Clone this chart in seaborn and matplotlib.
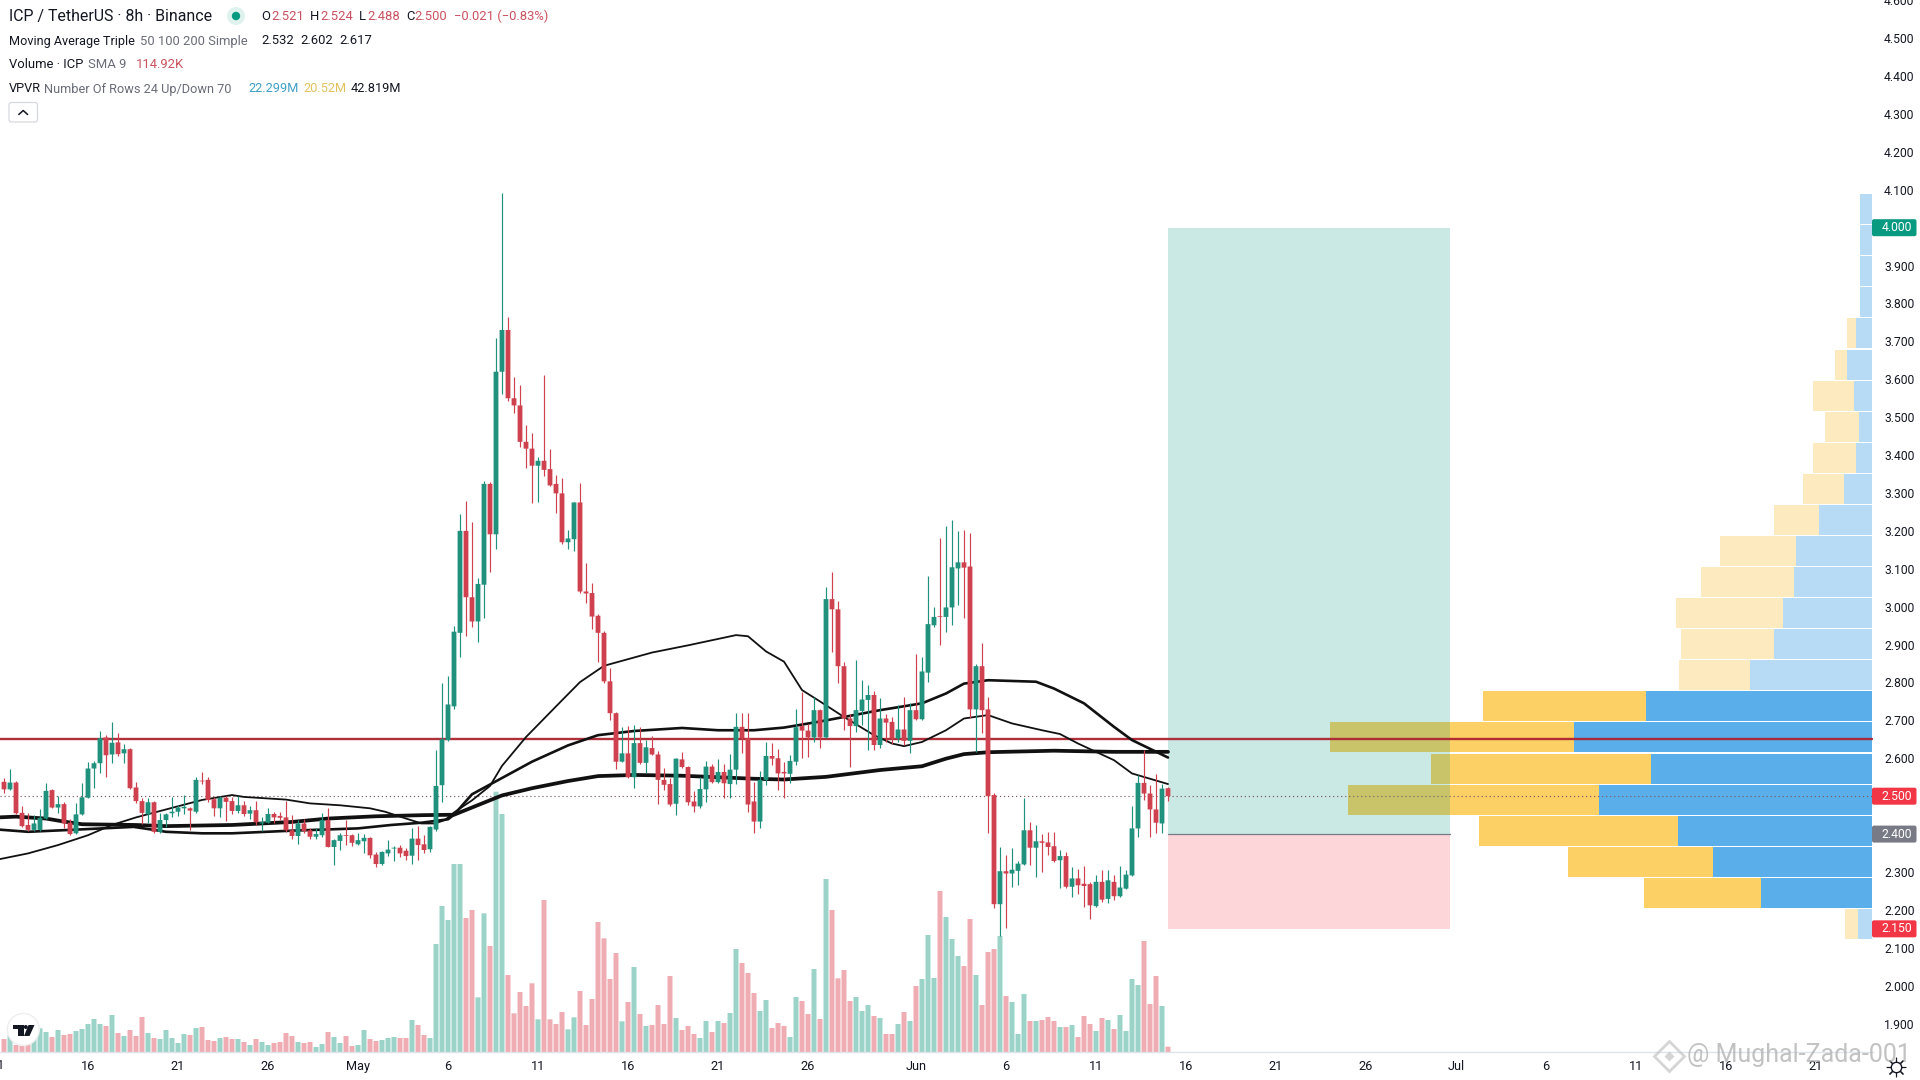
import numpy as np
import pandas as pd
import seaborn as sns
import matplotlib.pyplot as plt
from matplotlib.patches import Rectangle, FancyBboxPatch, Circle, Polygon

# candles, 8h each
opens = [2.538,2.518,2.536,2.456,2.424,2.411,2.411,2.441,2.516,2.470,
         2.479,2.430,2.402,2.452,2.496,2.573,2.587,2.655,2.610,2.642,
         2.613,2.624,2.523,2.487,2.452,2.484,2.406,2.437,2.455,2.459,
         2.468,2.468,2.459,2.541,2.543,2.492,2.468,2.496,2.487,2.461,
         2.476,2.454,2.463,2.428,2.430,2.453,2.448,2.444,2.410,2.395,
         2.428,2.410,2.393,2.397,2.437,2.366,2.382,2.397,2.397,2.373,
         2.381,2.390,2.346,2.321,2.349,2.362,2.364,2.356,2.343,2.388,
         2.373,2.360,2.412,2.529,2.648,2.737,2.931,3.200,3.025,2.961,
         3.058,3.324,3.191,3.620,3.730,3.550,3.531,3.435,3.417,3.372,
         3.385,3.363,3.324,3.299,3.170,3.178,3.275,3.040,3.036,2.976,
         2.931,2.803,2.719,2.591,2.613,2.550,2.640,2.588,2.627,2.610,
         2.543,2.532,2.480,2.597,2.577,2.486,2.473,2.518,2.578,2.537,
         2.564,2.532,2.570,2.683,2.653,2.486,2.433,2.543,2.606,2.600,
         2.564,2.559,2.591,2.685,2.673,2.655,2.727,2.655,3.020,2.993,
         2.843,2.705,2.685,2.725,2.754,2.767,2.635,2.705,2.696,2.652,
         2.676,2.646,2.727,2.703,2.826,2.951,2.975,2.973,2.998,3.101,
         3.117,3.106,2.729,2.843,2.729,2.503,2.215,2.302,2.296,2.303,
         2.320,2.410,2.364,2.381,2.378,2.368,2.331,2.342,2.261,2.283,
         2.269,2.268,2.210,2.274,2.229,2.274,2.236,2.256,2.291,2.415,
         2.535,2.507,2.465,2.428,2.521]
highs = [2.547,2.573,2.540,2.474,2.455,2.450,2.465,2.534,2.519,2.500,
         2.485,2.441,2.483,2.534,2.591,2.593,2.672,2.661,2.697,2.666,
         2.638,2.626,2.538,2.494,2.494,2.486,2.455,2.455,2.497,2.477,
         2.503,2.472,2.550,2.565,2.551,2.497,2.500,2.500,2.497,2.500,
         2.488,2.474,2.488,2.444,2.468,2.459,2.459,2.488,2.450,2.437,
         2.439,2.417,2.417,2.456,2.468,2.386,2.403,2.437,2.400,2.403,
         2.399,2.392,2.353,2.355,2.384,2.368,2.371,2.362,2.417,2.421,
         2.397,2.421,2.622,2.799,2.817,2.950,3.245,3.278,3.223,3.076,
         3.332,3.329,3.708,4.092,3.765,3.606,3.585,3.480,3.458,3.394,
         3.611,3.417,3.348,3.340,3.202,3.277,3.327,3.114,3.062,2.982,
         2.936,2.839,2.721,2.683,2.685,2.688,2.683,2.648,2.659,2.618,
         2.575,2.548,2.602,2.616,2.579,2.513,2.551,2.594,2.584,2.599,
         2.584,2.610,2.720,2.720,2.720,2.538,2.567,2.644,2.640,2.625,
         2.591,2.609,2.731,2.775,2.690,2.762,2.731,3.053,3.092,3.015,
         2.855,2.718,2.859,2.806,2.793,2.778,2.758,2.718,2.709,2.740,
         2.762,2.745,2.875,2.868,3.081,3.000,3.180,3.213,3.230,3.200,
         3.202,3.195,2.850,2.903,2.762,2.509,2.366,2.344,2.362,2.330,
         2.494,2.432,2.423,2.401,2.406,2.406,2.357,2.353,2.312,2.309,
         2.315,2.274,2.291,2.305,2.305,2.291,2.315,2.306,2.474,2.555,
         2.621,2.529,2.558,2.533,2.524]
lows = [2.509,2.516,2.453,2.419,2.409,2.409,2.409,2.440,2.468,2.455,
        2.415,2.397,2.400,2.450,2.494,2.521,2.560,2.551,2.587,2.606,
        2.587,2.519,2.481,2.426,2.428,2.404,2.404,2.419,2.446,2.448,
        2.452,2.412,2.455,2.532,2.485,2.448,2.444,2.434,2.453,2.456,
        2.447,2.441,2.424,2.409,2.428,2.430,2.437,2.406,2.388,2.375,
        2.402,2.387,2.387,2.391,2.365,2.318,2.359,2.371,2.368,2.371,
        2.349,2.336,2.314,2.319,2.342,2.329,2.340,2.331,2.321,2.331,
        2.351,2.353,2.409,2.484,2.646,2.729,2.868,2.922,2.947,2.906,
        2.971,3.092,3.153,3.561,3.544,3.510,3.421,3.367,3.273,3.275,
        3.345,3.318,3.248,3.165,3.151,3.146,3.036,3.011,2.941,2.855,
        2.799,2.702,2.572,2.589,2.548,2.521,2.586,2.562,2.608,2.480,
        2.516,2.473,2.451,2.575,2.476,2.457,2.470,2.484,2.534,2.535,
        2.494,2.494,2.532,2.613,2.459,2.404,2.417,2.530,2.582,2.516,
        2.496,2.534,2.582,2.602,2.603,2.643,2.628,2.653,2.881,2.799,
        2.674,2.577,2.670,2.687,2.621,2.621,2.626,2.643,2.639,2.643,
        2.635,2.614,2.701,2.701,2.802,2.946,2.899,2.934,2.951,3.004,
        2.969,2.705,2.617,2.666,2.402,2.206,2.130,2.151,2.261,2.265,
        2.318,2.318,2.287,2.300,2.344,2.327,2.259,2.259,2.234,2.243,
        2.208,2.177,2.208,2.221,2.217,2.225,2.234,2.254,2.289,2.391,
        2.489,2.391,2.402,2.402,2.488]
closes = [2.518,2.536,2.455,2.421,2.411,2.428,2.443,2.514,2.470,2.479,
          2.428,2.400,2.452,2.497,2.573,2.587,2.653,2.608,2.641,2.611,
          2.624,2.521,2.487,2.456,2.484,2.406,2.437,2.452,2.459,2.470,
          2.472,2.462,2.543,2.539,2.490,2.468,2.496,2.485,2.461,2.476,
          2.453,2.463,2.431,2.431,2.453,2.444,2.443,2.410,2.395,2.428,
          2.408,2.393,2.400,2.437,2.366,2.384,2.397,2.395,2.377,2.384,
          2.390,2.344,2.321,2.353,2.359,2.364,2.349,2.342,2.388,2.371,
          2.358,2.419,2.527,2.650,2.742,2.934,3.200,3.025,2.961,3.060,
          3.324,3.191,3.620,3.730,3.550,3.531,3.435,3.417,3.372,3.385,
          3.361,3.320,3.299,3.170,3.180,3.275,3.040,3.035,2.974,2.931,
          2.803,2.719,2.591,2.613,2.550,2.640,2.588,2.629,2.610,2.543,
          2.530,2.478,2.599,2.577,2.484,2.473,2.519,2.578,2.537,2.564,
          2.534,2.570,2.683,2.653,2.478,2.433,2.543,2.606,2.599,2.560,
          2.560,2.593,2.682,2.673,2.655,2.727,2.655,3.020,2.993,2.843,
          2.705,2.685,2.727,2.755,2.767,2.635,2.705,2.694,2.652,2.676,
          2.646,2.727,2.703,2.829,2.954,2.973,2.973,2.998,3.104,3.117,
          3.103,2.729,2.843,2.727,2.500,2.215,2.302,2.296,2.306,2.322,
          2.410,2.364,2.381,2.377,2.366,2.329,2.342,2.261,2.283,2.265,
          2.263,2.212,2.274,2.227,2.278,2.236,2.259,2.293,2.415,2.535,
          2.507,2.465,2.430,2.520,2.500]

# volume bars (heights as read, same relative scale as the pane)
volume = [39,50,21,19,21,70,71,60,45,66,51,54,63,69,84,99,84,78,111,57,
          48,66,48,105,57,42,39,66,42,27,54,51,72,75,36,33,42,45,39,39,
          30,21,39,30,21,27,30,57,48,30,27,30,15,24,60,45,27,48,18,21,
          66,39,33,36,42,45,42,42,96,81,51,42,324,438,396,564,564,402,426,164,
          416,318,781,714,231,116,180,138,206,98,456,98,84,120,68,104,183,81,159,390,
          341,219,297,92,150,255,114,78,81,141,84,228,102,66,78,54,42,93,60,93,
          87,117,309,267,237,177,123,156,72,87,78,45,165,153,114,249,99,519,426,221,
          246,153,165,123,141,108,102,54,54,84,120,93,198,219,351,222,483,405,339,288,
          258,399,231,141,300,309,348,168,150,54,174,93,93,96,105,93,75,75,81,45,
          108,84,63,102,96,69,111,63,219,201,333,144,228,138,16]

# moving averages, read at a handful of places along each line
ma50_x = [-1,4,9,14,18,22,27,33,38,40,47,51,56,61,63.5,67,69.6,71.8,73.5,75,78,81,83,87,93,96,100,108,114,122,
          124,127,130,133,136,140,145,148,150,153,157,160,164,168,173,176,179,185,188,194]
ma50_y = [2.333,2.349,2.371,2.397,2.424,2.444,2.465,2.490,2.503,2.498,2.491,2.481,2.476,2.468,2.459,2.441,2.428,2.428,2.437,2.457,
          2.489,2.527,2.580,2.656,2.753,2.801,2.844,2.879,2.898,2.925,2.922,2.882,2.855,2.780,2.750,2.709,2.661,2.639,2.632,2.643,
          2.674,2.705,2.714,2.692,2.674,2.664,2.639,2.595,2.560,2.532]
ma100_x = [-1,4,11,21.6,25,27,33,38,48,59,64.5,69.6,74,75,78,83,88,94,99,105,113,119,125,130,136,146,153,157,160,164,172,175,180,185,188,194]
ma100_y = [2.412,2.406,2.411,2.419,2.411,2.406,2.402,2.402,2.409,2.415,2.424,2.430,2.439,2.451,2.505,2.548,2.591,2.634,2.661,2.672,
           2.680,2.674,2.674,2.681,2.697,2.727,2.745,2.771,2.797,2.806,2.802,2.784,2.745,2.683,2.648,2.602]
ma200_x = [-1,2,7,10,13,22,27,38,48,54,62,70,75,83,88,94,99,105,113,119,125,130,137,146,153,157,160,164,175,185,194]
ma200_y = [2.444,2.446,2.441,2.433,2.426,2.424,2.421,2.424,2.432,2.441,2.447,2.450,2.451,2.502,2.521,2.540,2.553,2.556,2.554,2.550,
           2.546,2.544,2.551,2.569,2.579,2.599,2.611,2.616,2.620,2.617,2.617]

# volume profile, 24 rows, in millions
vp_low = 2.122
vp_step = 0.082
vp_up = [0.14,1.13,1.62,1.98,2.78,2.25,3.04,2.30,1.24,1.00,0.91,0.80,0.78,0.54,0.29,0.16,0.13,0.18,0.26,0.16,0.12,0.12,0.12,0.12]
vp_down = [0.14,1.20,1.48,2.03,2.56,2.25,2.49,1.67,0.73,0.95,1.09,0.94,0.77,0.46,0.41,0.44,0.35,0.42,0.12,0.09,0,0,0,0]
vp_value_area = [False,True,True,True,True,True,True,True,False,False,False,False,False,False,False,False,False,False,False,False,False,False,False,False]

# long position tool and levels
tool_start, tool_end = 194, 241
entry, target, stop = 2.400, 4.000, 2.150
resistance = 2.65
last_price = 2.500

price_ticks = [1.9,2.0,2.1,2.2,2.3,2.4,2.5,2.6,2.7,2.8,2.9,3.0,3.1,3.2,3.3,3.4,3.5,3.6,3.7,3.8,3.9,4.0,4.1,4.2,4.3,4.4,4.5,4.6]
date_ticks = [14,29,44,59,74,89,104,119,134,152,167,182,197,212,227,242,257,272,287,302]
date_labels = ['16','21','26','May','6','11','16','21','26','Jun','6','11','16','21','26','Jul','6','11','16','21']

GREEN = '#1f917d'
RED = '#d04150'
INK = '#131722'
MUTED = '#6a6d78'
SOFT_RED = '#c9525f'

sns.set_theme(style='white')
plt.rcParams['font.family'] = ['Roboto', 'DejaVu Sans']

W, H = 1920, 1080
AX_RIGHT, AX_BOTTOM = 1873, 1052
fig = plt.figure(figsize=(W / 100, H / 100), dpi=100, facecolor='white')
rect = [0, 1 - AX_BOTTOM / H, AX_RIGHT / W, AX_BOTTOM / H]

df = pd.DataFrame({'idx': np.arange(len(closes)), 'open': opens, 'high': highs, 'low': lows,
                   'close': closes, 'volume': volume})
df['dir'] = np.where(df['close'] >= df['open'], 'up', 'down')

xlim = (-0.667, 311.5)
ylim = (1.825, 4.6008)

# volume pane sits behind everything
vol_ax = fig.add_axes(rect, zorder=1)
sns.barplot(data=df, x='idx', y='volume', hue='dir', palette={'up': '#9bd3c8', 'down': '#efacb3'},
            native_scale=True, dodge=False, width=0.83, saturation=1, legend=False, linewidth=0, ax=vol_ax)
for bar in vol_ax.patches:
    bar.set_snap(False)  # keeps the 1px gaps even
vol_ax.set_xlim(xlim)
vol_ax.set_ylim(0, 3156)
vol_ax.axis('off')

# volume profile hangs off the right edge
vp_ax = fig.add_axes(rect, zorder=2)
vp_ax.patch.set_alpha(0)
vp_y = [vp_low + vp_step * (i + 0.5) for i in range(len(vp_up))]
vp_ax.barh(vp_y, vp_up, height=vp_step * 0.965,
           color=['#5aaeea' if v else '#b7dbf5' for v in vp_value_area], linewidth=0)
vp_ax.barh(vp_y, vp_down, left=vp_up, height=vp_step * 0.965,
           color=['#fdd065' if v else '#fdeabf' for v in vp_value_area], linewidth=0)
vp_ax.set_xlim(19.09, -0.0102)
vp_ax.set_ylim(ylim)
vp_ax.axis('off')

# price pane
ax = fig.add_axes(rect, zorder=3)
ax.patch.set_alpha(0)
ax.set_xlim(xlim)
ax.set_ylim(ylim)

ax.add_patch(Rectangle((tool_start, entry), tool_end - tool_start, target - entry,
                       facecolor='#089981', alpha=0.21, linewidth=0, zorder=1))
ax.add_patch(Rectangle((tool_start, stop), tool_end - tool_start, entry - stop,
                       facecolor='#f23645', alpha=0.2, linewidth=0, zorder=1))
ax.plot([tool_start, tool_end], [entry, entry], color='#787b86', lw=0.9, zorder=1.5)

ax.plot([xlim[0], 311.33], [resistance, resistance], color='#ad2430', lw=1.7, alpha=0.95, zorder=2)
ax.plot([xlim[0], 311.33], [last_price, last_price], color='#7d5a60', lw=0.85, ls=(0, (1, 2.4)), zorder=2)

sns.lineplot(x=ma50_x, y=ma50_y, color='#111111', linewidth=1.3, estimator=None, sort=False, ax=ax, zorder=3)
sns.lineplot(x=ma100_x, y=ma100_y, color='#111111', linewidth=1.9, estimator=None, sort=False, ax=ax, zorder=3)
sns.lineplot(x=ma200_x, y=ma200_y, color='#111111', linewidth=2.7, estimator=None, sort=False, ax=ax, zorder=3)

candle_colors = [GREEN if d == 'up' else RED for d in df['dir']]
ax.vlines(df['idx'], df['low'], df['high'], colors=candle_colors, linewidth=0.85, zorder=4)
bodies = ax.bar(df['idx'], np.maximum(np.abs(df['close'] - df['open']), 0.002), bottom=df[['open', 'close']].min(axis=1),
                width=0.8, color=candle_colors, linewidth=0, zorder=5)
for body in bodies:
    body.set_snap(False)

ax.yaxis.tick_right()
ax.set_yticks(price_ticks, [f'{p:.3f}' for p in price_ticks])
ax.set_xticks(date_ticks, date_labels)
ax.tick_params(axis='y', length=0, pad=8, labelsize=8.7, labelcolor=INK)
ax.tick_params(axis='x', length=0, pad=6, labelsize=9.2, labelcolor=INK)
sns.despine(ax=ax, left=True, top=True, right=True)
ax.spines['bottom'].set_color('#e0e3eb')
ax.spines['bottom'].set_linewidth(1)
ax.set_xlabel('')
ax.set_ylabel('')
ax.grid(False)

# overlay in pixel coordinates for the chart furniture
top = fig.add_axes([0, 0, 1, 1], zorder=10)
top.set_xlim(0, W)
top.set_ylim(H, 0)
top.axis('off')


def label(x, y, s, color=INK, size=9.2, **kw):
    top.text(x, y, s, color=color, fontsize=size, va='center', ha=kw.pop('ha', 'left'), **kw)


label(-2, 1065.5, '11', ha='center')

label(9, 16.5, 'ICP / TetherUS · 8h · Binance', size=11.4)
top.add_patch(Circle((236, 16), 9, color='#dff2ee', lw=0))
top.add_patch(Circle((236, 16), 4.2, color='#089981', lw=0))
for x, s, c in [(261, 'O', INK), (271, '2.521', SOFT_RED), (310, 'H', INK), (320, '2.524', SOFT_RED),
                (359, 'L', INK), (367, '2.488', SOFT_RED), (406, 'C', INK), (414, '2.500', SOFT_RED),
                (454, '−0.021 (−0.83%)', SOFT_RED)]:
    label(x, 16.5, s, c, size=9.4)
label(9, 41, 'Moving Average Triple', size=9.05)
for x, s, c in [(140, '50 100 200 Simple', MUTED),
                (261, '2.532', INK), (300, '2.602', INK), (339, '2.617', INK)]:
    label(x, 41, s, c, size=9.4)
for x, s, c in [(9, 'Volume · ICP', INK), (88, 'SMA 9', MUTED), (135.5, '114.92K', SOFT_RED)]:
    label(x, 65, s, c, size=9.4)
for x, s, c in [(9, 'VPVR', INK), (44, 'Number Of Rows 24 Up/Down 70', MUTED), (248, '22.299M', '#3f9fc7'),
                (303, '20.52M', '#e3c25e'), (351, '42.819M', INK)]:
    label(x, 89, s, c, size=9.2)

top.add_patch(FancyBboxPatch((9, 102.5), 28.5, 19.5, boxstyle='round,pad=0,rounding_size=2.5',
                             facecolor='white', edgecolor='#d6d8de', lw=0.9))
top.plot([18.8, 23.2, 27.6], [114.5, 110.5, 114.5], color=INK, lw=1.1, solid_capstyle='round')

# price badges
for price, color in [(target, '#089981'), (last_price, '#f23645'), (entry, '#787b86'), (stop, '#f23645')]:
    y = H - ax.transData.transform((0, price))[1]
    top.add_patch(FancyBboxPatch((AX_RIGHT - 1, y - 8.5), 44.5, 17, boxstyle='round,pad=0,rounding_size=2',
                                 facecolor=color, edgecolor='none'))
    label(AX_RIGHT + 8.5, y, f'{price:.3f}', 'white', size=8.7)

# TradingView badge
top.add_patch(Circle((23.3, 1029.5), 16, facecolor='white', edgecolor='#eeeeee', lw=1))
top.add_patch(Polygon([[12.6, 1025], [23.6, 1025], [23.6, 1036], [18, 1036], [18, 1029], [12.6, 1029]], color=INK, lw=0))
top.add_patch(Circle((25.8, 1027), 2, color=INK, lw=0))
top.add_patch(Polygon([[28.5, 1025], [34.5, 1025], [29.5, 1036], [24, 1036]], color=INK, lw=0))

# settings icon and watermark
top.plot([1896], [1067], marker=(8, 2, 0), ms=14, mec=INK, mew=0.8, zorder=1)
top.plot([1896], [1067], marker='o', ms=7.5, mfc='white', mec=INK, mew=1)
top.plot([1669], [1056], marker='D', ms=15, mfc='none', mec='#c4c4c4', mew=2, alpha=0.7)
top.plot([1669], [1056], marker='D', ms=5, mfc='#c4c4c4', mec='none', alpha=0.7)
top.text(1687, 1055, '@ Mughal-Zada-001', color='#a9a9a9', alpha=0.7, fontsize=18, va='center', ha='left')

fig.savefig('out.png', dpi=100, facecolor='white')
